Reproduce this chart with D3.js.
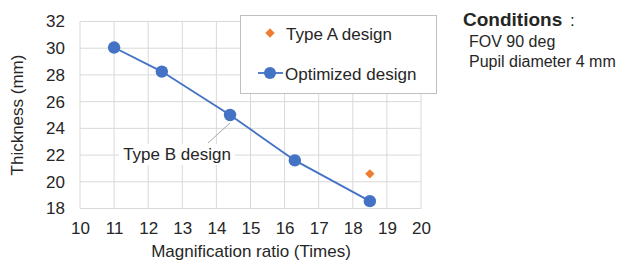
<!DOCTYPE html>
<html>
<head>
<meta charset="utf-8">
<script src="https://cdn.jsdelivr.net/npm/d3@7"></script>
<style>
  body { margin: 0; background: #fff; }
  text { font-family: "Liberation Sans", Arial, sans-serif; fill: #262626; }
</style>
</head>
<body>
<div id="chart"></div>
<script>
var width = 628;
var height = 263;

// data
var magnification = [11, 12.4, 14.4, 16.3, 18.5];
var thickness = [30.05, 28.25, 25.0, 21.6, 18.55];
var typeA = [{x: 18.5, y: 20.6}];
var xTicks = [10, 11, 12, 13, 14, 15, 16, 17, 18, 19, 20];
var yTicks = [18, 20, 22, 24, 26, 28, 30, 32];
var conditions = ["FOV 90 deg", "Pupil diameter 4 mm"];

var blue = "#4472c4";
var orange = "#ed7d31";
var fs = "17px";

var svg = d3.select("#chart").append("svg")
  .attr("width", width)
  .attr("height", height);

var x = d3.scaleLinear().domain([10, 20]).range([80, 421]);
var y = d3.scaleLinear().domain([18, 32]).range([208.5, 21.5]);

// grid
var grid = svg.append("g");
grid.selectAll(".gx")
  .data(xTicks).enter().append("line")
  .attr("x1", d => x(d)).attr("x2", d => x(d))
  .attr("y1", y(32)).attr("y2", y(18))
  .attr("stroke", "#d9d9d9").attr("stroke-width", 1);
grid.selectAll(".gy")
  .data(yTicks).enter().append("line")
  .attr("x1", x(10)).attr("x2", x(20))
  .attr("y1", d => y(d)).attr("y2", d => y(d))
  .attr("stroke", "#d9d9d9").attr("stroke-width", 1);

// axes (labels only, Excel style)
var xAxis = svg.append("g")
  .attr("transform", "translate(0," + y(18) + ")")
  .call(d3.axisBottom(x).tickValues(xTicks).tickSize(0).tickPadding(13));
var yAxis = svg.append("g")
  .attr("transform", "translate(" + x(10) + ",0)")
  .call(d3.axisLeft(y).tickValues(yTicks).tickSize(0).tickPadding(15));
[xAxis, yAxis].forEach(function(a) {
  a.select(".domain").remove();
  a.selectAll("text")
    .style("font-family", "Liberation Sans, Arial, sans-serif")
    .style("font-size", fs)
    .attr("fill", "#262626");
});

svg.append("text")
  .attr("x", 251).attr("y", 257)
  .attr("text-anchor", "middle")
  .style("font-size", fs)
  .text("Magnification ratio (Times)");

svg.append("text")
  .attr("transform", "translate(23,115) rotate(-90)")
  .attr("text-anchor", "middle")
  .style("font-size", fs)
  .text("Thickness (mm)");

// optimized line
var pts = magnification.map((m, i) => ({x: m, y: thickness[i]}));
var line = d3.line().x(d => x(d.x)).y(d => y(d.y));
svg.append("path")
  .datum(pts)
  .attr("d", line)
  .attr("fill", "none")
  .attr("stroke", blue)
  .attr("stroke-width", 1.8);

svg.selectAll(".pt")
  .data(pts).enter().append("circle")
  .attr("cx", d => x(d.x)).attr("cy", d => y(d.y))
  .attr("r", 6.2)
  .attr("fill", blue);

// type A diamond
var diamond = d3.symbol().type(d3.symbolDiamond2).size(55);
svg.selectAll(".ta")
  .data(typeA).enter().append("path")
  .attr("d", diamond)
  .attr("transform", d => "translate(" + x(d.x) + "," + y(d.y) + ")")
  .attr("fill", orange);

// Type B annotation
var bPt = pts[2];
svg.append("line")
  .attr("x1", x(bPt.x)).attr("y1", y(bPt.y) + 8)
  .attr("x2", 208).attr("y2", 143)
  .attr("stroke", "#a6a6a6").attr("stroke-width", 1);
svg.append("rect")
  .attr("x", 119).attr("y", 144).attr("width", 116).attr("height", 21)
  .attr("fill", "#fff");
svg.append("text")
  .attr("x", 177).attr("y", 160)
  .attr("text-anchor", "middle")
  .style("font-size", fs)
  .text("Type B design");

// legend
var lg = svg.append("g");
lg.append("rect")
  .attr("x", 240.5).attr("y", 15.5).attr("width", 196).attr("height", 78)
  .attr("fill", "#fff").attr("stroke", "#bfbfbf").attr("stroke-width", 1);
lg.append("path")
  .attr("d", diamond)
  .attr("transform", "translate(270,33)")
  .attr("fill", orange);
lg.append("text")
  .attr("x", 286).attr("y", 39.5)
  .style("font-size", fs)
  .text("Type A design");
lg.append("line")
  .attr("x1", 258).attr("x2", 283).attr("y1", 73).attr("y2", 73)
  .attr("stroke", blue).attr("stroke-width", 1.8);
lg.append("circle")
  .attr("cx", 270).attr("cy", 73).attr("r", 6)
  .attr("fill", blue);
lg.append("text")
  .attr("x", 285).attr("y", 79.5)
  .style("font-size", fs)
  .text("Optimized design");

// conditions
var cond = svg.append("g");
cond.append("text")
  .attr("x", 463).attr("y", 26)
  .style("font-size", "19px")
  .style("font-weight", "bold")
  .text("Conditions");
cond.append("text")
  .attr("x", 570).attr("y", 26)
  .style("font-size", "17px")
  .text(":");
cond.selectAll(".c")
  .data(conditions).enter().append("text")
  .attr("x", 469)
  .attr("y", (d, i) => 47 + i * 20)
  .style("font-size", "16px")
  .text(d => d);
</script>
</body>
</html>
